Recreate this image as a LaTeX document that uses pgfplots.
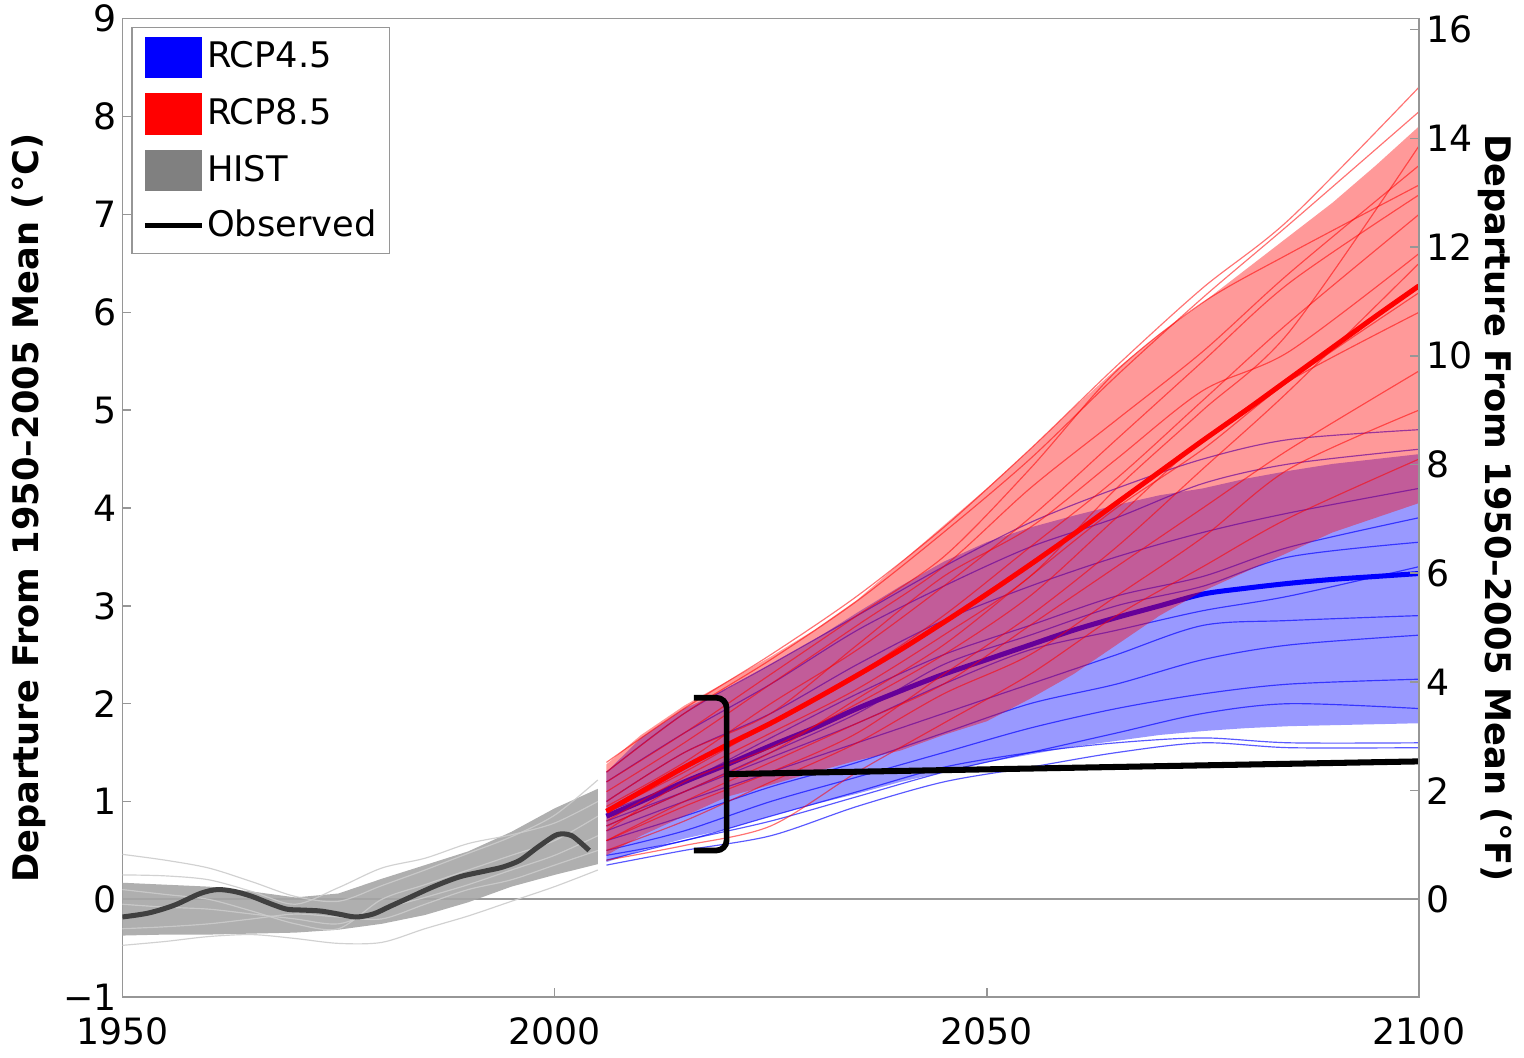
\documentclass[border=0pt]{standalone}
\usepackage{fontspec}
\setmainfont{DejaVu Sans}
\usepackage{pgfplots}
\pgfplotsset{compat=1.18}
\usepackage{pgfplotstable}

\definecolor{obsgray}{RGB}{64,64,64}
\definecolor{boxgray}{RGB}{150,150,150}

% historical envelope (upper edge forward, lower edge back)
\pgfplotstableread{
year t
1950 0.17
1955 0.15
1960 0.13
1965 0.08
1970 0.02
1975 0.06
1980 0.21
1985 0.35
1990 0.49
1995 0.69
2000 0.93
2005 1.13
2005 0.36
2000 0.25
1995 0.13
1990 -0.03
1985 -0.16
1980 -0.25
1975 -0.31
1970 -0.34
1965 -0.35
1960 -0.36
1955 -0.36
1950 -0.37
}\hband

% historical members
\pgfplotstableread{
year g1 g2 g3 g4 g5 g6
1950 0.46 -0.47 0.25 -0.05 -0.30 0.10
1955 0.40 -0.43 0.24 -0.08 -0.28 0.05
1960 0.32 -0.38 0.20 -0.10 -0.25 0.00
1965 0.18 -0.36 0.08 -0.15 -0.20 -0.12
1970 0.03 -0.40 -0.05 -0.20 -0.15 -0.25
1975 -0.02 -0.45 0.12 -0.25 -0.18 -0.30
1980 0.14 -0.44 0.32 -0.10 -0.20 0.00
1985 0.30 -0.30 0.42 0.02 -0.05 0.15
1990 0.47 -0.17 0.57 0.15 0.10 0.30
1995 0.64 -0.02 0.66 0.30 0.20 0.45
2000 0.86 0.13 0.78 0.45 0.35 0.60
2005 1.22 0.30 1.00 0.65 0.50 0.85
}\histm

% observed
\pgfplotstableread{
year t
1950 -0.18
1953 -0.14
1956 -0.06
1959 0.06
1961 0.10
1963 0.08
1965 0.03
1967 -0.04
1969 -0.10
1971 -0.11
1973 -0.12
1975 -0.15
1977 -0.18
1979 -0.15
1981 -0.07
1983 0.01
1986 0.13
1989 0.23
1992 0.29
1994 0.33
1996 0.40
1998 0.53
2000 0.65
2001 0.67
2002 0.65
2003 0.58
2004 0.50
}\obs

% RCP4.5 envelope
\pgfplotstableread{
year t
2006 1.30
2010 1.65
2015 1.95
2020 2.15
2025 2.40
2030 2.65
2035 2.93
2040 3.20
2045 3.45
2050 3.65
2055 3.80
2060 3.92
2065 4.03
2070 4.13
2075 4.20
2080 4.30
2085 4.38
2090 4.45
2095 4.50
2100 4.55
2100 1.80
2095 1.79
2090 1.78
2085 1.77
2080 1.75
2075 1.72
2070 1.68
2065 1.62
2060 1.56
2055 1.48
2050 1.40
2045 1.30
2040 1.20
2035 1.08
2030 0.97
2025 0.85
2020 0.72
2015 0.62
2010 0.50
2006 0.38
}\bband

% RCP8.5 envelope
\pgfplotstableread{
year t
2006 1.38
2010 1.68
2015 1.98
2020 2.23
2025 2.48
2030 2.75
2035 3.06
2040 3.44
2045 3.82
2050 4.20
2055 4.60
2060 5.02
2065 5.42
2070 5.78
2075 6.10
2080 6.44
2085 6.78
2090 7.12
2095 7.50
2100 7.90
2100 4.05
2095 3.90
2090 3.75
2085 3.55
2080 3.35
2075 3.15
2070 2.90
2065 2.60
2060 2.30
2055 2.05
2050 1.82
2045 1.68
2040 1.52
2035 1.42
2030 1.30
2025 1.17
2020 1.05
2015 0.85
2010 0.65
2006 0.45
}\rband

% multi-model means
\pgfplotstableread{
year bm rm
2006 0.85 0.90
2010 1.00 1.10
2015 1.20 1.35
2020 1.38 1.58
2025 1.57 1.80
2030 1.75 2.04
2035 1.95 2.29
2040 2.13 2.55
2045 2.30 2.83
2050 2.45 3.12
2055 2.60 3.42
2060 2.75 3.73
2065 2.88 4.05
2070 3.00 4.37
2075 3.12 4.69
2080 3.18 5.00
2085 3.23 5.32
2090 3.27 5.64
2095 3.30 5.96
2100 3.33 6.27
}\proj

% RCP8.5 members
\pgfplotstableread{
year r1 r2 r3 r4 r5 r6 r7 r8 r9 r10 r11 r12 r13 r14
2006 1.40 1.30 1.10 0.90 1.00 0.70 0.60 0.50 0.40 0.80 1.20 0.60 0.95 0.75
2015 1.95 1.90 1.60 1.30 1.50 1.20 1.00 0.80 0.55 1.25 1.70 0.95 1.40 1.10
2025 2.50 2.45 2.20 1.80 1.90 1.55 1.40 1.20 0.75 1.70 2.30 1.30 2.00 1.50
2035 3.10 3.05 2.80 2.30 2.60 2.00 1.80 1.60 1.30 2.15 2.90 1.70 2.55 2.05
2045 3.80 3.75 3.40 2.90 3.30 2.50 2.20 2.10 1.80 2.70 3.50 2.30 3.20 2.60
2055 4.60 4.50 4.20 3.60 3.80 3.10 2.80 2.50 2.30 3.30 4.40 2.90 3.90 3.30
2065 5.45 5.35 4.90 4.30 4.50 3.90 3.40 3.10 2.90 4.20 5.40 3.60 4.70 4.00
2075 6.25 6.15 5.60 5.10 5.20 4.70 4.00 3.70 3.40 5.00 6.10 4.40 5.50 4.60
2085 6.95 6.90 6.40 5.90 5.60 5.30 4.60 4.40 3.90 5.80 6.60 5.20 6.30 5.30
2100 8.30 8.05 7.50 7.00 6.60 6.00 5.40 5.00 4.50 7.70 7.30 6.50 7.20 6.20
}\rcpE

% RCP4.5 members
\pgfplotstableread{
year b1 b2 b3 b4 b5 b6 b7 b8 b9 b10 b11 b12
2006 1.30 1.20 1.00 0.90 0.80 0.70 0.60 0.50 0.40 0.35 0.45 0.75
2015 1.90 1.70 1.50 1.20 1.10 1.00 0.85 0.70 0.60 0.50 0.60 1.10
2025 2.40 2.20 1.90 1.65 1.45 1.30 1.15 1.00 0.80 0.65 0.85 1.50
2035 2.90 2.75 2.40 2.10 1.80 1.60 1.40 1.25 1.05 0.95 1.10 1.90
2045 3.40 3.20 2.85 2.50 2.20 1.90 1.70 1.50 1.30 1.20 1.35 2.40
2055 3.85 3.60 3.20 2.80 2.55 2.20 2.00 1.75 1.50 1.35 1.50 2.70
2065 4.20 3.90 3.50 3.10 2.75 2.50 2.20 1.95 1.70 1.50 1.60 3.00
2075 4.50 4.25 3.75 3.30 2.95 2.80 2.45 2.10 1.90 1.60 1.65 3.20
2085 4.70 4.45 3.95 3.60 3.10 2.85 2.60 2.20 2.00 1.55 1.60 3.50
2100 4.80 4.60 4.20 3.90 3.40 2.90 2.70 2.25 1.95 1.55 1.60 3.65
}\rcpF

\pgfplotsset{
  member/.style={smooth, line width=0.35pt, opacity=0.55, forget plot},
  sqlegend/.style={legend image code/.code={%
    \fill[##1] (0pt,-6.15pt) rectangle (17pt,6.15pt);}},
  linelegend/.style={legend image code/.code={%
    \draw[##1] (0pt,0pt) -- (17pt,0pt);}},
}

\begin{document}
\fontsize{10.5}{12.6}\selectfont
\begin{tikzpicture}
\begin{axis}[
  scale only axis,
  width=386.4pt, height=291.6pt,
  xmin=1950, xmax=2100, ymin=-1, ymax=9,
  xtick={1950,2000,2050,2100},
  xticklabels={1950,2000,2050,2100},
  ytick={-1,0,...,9},
  yticklabels={−1,0,1,2,3,4,5,6,7,8,9},
  xtick pos=left, ytick pos=left,
  tick align=inside,
  major tick length=2.6pt,
  tick style={boxgray, line width=0.45pt},
  axis line style={boxgray, line width=0.45pt},
  tick label style={font=\fontsize{10.8}{12.6}\selectfont},
  xticklabel style={yshift=-2.5pt},
  yticklabel style={inner sep=1.5pt},
  ylabel={Departure From 1950–2005 Mean (°C)},
  ylabel style={font=\fontsize{10.5}{12.6}\selectfont\bfseries},
  legend cell align=left,
  legend style={at={(axis description cs:0.007,0.992)}, anchor=north west,
    draw=boxgray, line width=0.45pt, inner xsep=3pt, inner ysep=2.8pt,
    row sep=4.6pt, column sep=0pt,
    nodes={inner sep=0.8pt},
    font=\fontsize{10.5}{12.6}\selectfont},
]
% legend entries
\addlegendimage{sqlegend, fill=blue, draw=none}
\addlegendimage{sqlegend, fill=red, draw=none}
\addlegendimage{sqlegend, fill=gray, draw=none}
\addlegendimage{linelegend, black, line width=1.5pt}
\legend{RCP4.5, RCP8.5, HIST, Observed}

% zero line
\addplot[gray!80, line width=0.6pt, forget plot] coordinates {(1950,0) (2100,0)};

% historical ensemble
\addplot[draw=none, fill=gray!70, fill opacity=0.9, forget plot]
  table[x=year, y=t] {\hband} -- cycle;
\foreach \c in {g1,g2,g3,g4,g5,g6}{
  \addplot[member, gray!40, opacity=0.9] table[x=year, y=\c] {\histm};
}
\addplot[obsgray, line width=1.5pt, smooth, forget plot] table[x=year, y=t] {\obs};

% RCP4.5
\addplot[draw=none, fill=blue, fill opacity=0.4, forget plot]
  table[x=year, y=t] {\bband} -- cycle;
\foreach \c in {b1,b2,b3,b4,b5,b6,b7,b8,b9,b10,b11,b12}{
  \addplot[member, blue, opacity=0.65] table[x=year, y=\c] {\rcpF};
}
\addplot[blue, line width=1.5pt, smooth, forget plot] table[x=year, y=bm] {\proj};

% RCP8.5
\addplot[draw=none, fill=red, fill opacity=0.4, forget plot]
  table[x=year, y=t] {\rband} -- cycle;
\foreach \c in {r1,r2,r3,r4,r5,r6,r7,r8,r9,r10,r11,r12,r13,r14}{
  \addplot[member, red] table[x=year, y=\c] {\rcpE};
}
\addplot[red, line width=1.5pt, smooth, forget plot] table[x=year, y=rm] {\proj};

% bracket and level line
\draw[black, line width=1.7pt, rounded corners=3pt]
  (axis cs:2016.1,2.06) -- (axis cs:2019.9,2.06) -- (axis cs:2019.9,0.50) -- (axis cs:2016.1,0.50);
\addplot[black, line width=1.8pt, forget plot] coordinates {(2019.9,1.28) (2100,1.41)};
\end{axis}

\begin{axis}[
  scale only axis,
  width=386.4pt, height=291.6pt,
  xmin=1950, xmax=2100, ymin=-1.8, ymax=16.2,
  axis x line=none, axis y line*=right,
  ytick={0,2,...,16},
  yticklabels={0,2,4,6,8,10,12,14,16},
  tick align=inside,
  major tick length=2.6pt,
  tick style={boxgray, line width=0.45pt},
  axis line style={boxgray, line width=0.45pt},
  tick label style={font=\fontsize{10.8}{12.6}\selectfont},
  yticklabel style={inner sep=2pt},
  ylabel={Departure From 1950–2005 Mean (°F)},
  ylabel shift=-4pt,
  ylabel style={font=\fontsize{10.5}{12.6}\selectfont\bfseries, rotate=180},
]
\end{axis}
\end{tikzpicture}
\end{document}
